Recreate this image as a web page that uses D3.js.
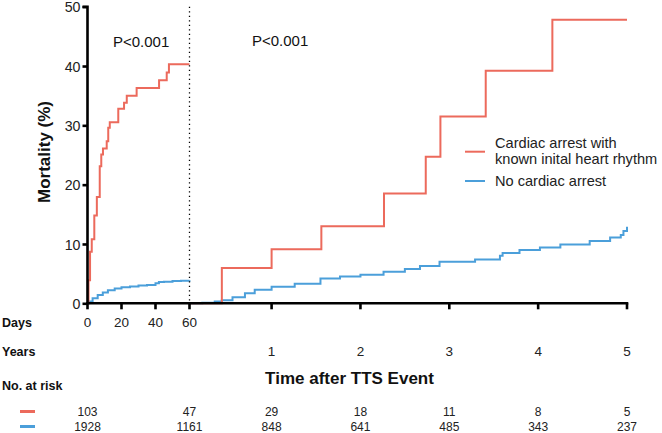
<!DOCTYPE html>
<html><head><meta charset="utf-8">
<script src="https://cdn.jsdelivr.net/npm/d3@7"></script>
<style>
html,body{margin:0;padding:0;background:#fff;}
svg{display:block;font-family:"Liberation Sans",Arial,sans-serif;}
</style></head>
<body><svg id="c" width="662" height="433"></svg>
<script>
// ---- data ----
const seriesNames = ["Cardiac arrest with\nknown inital heart rhythm", "No cardiac arrest"];
// early phase (days 0-60): [day, mortality %]
const arrestDays = [[0,0],[0.6,3.9],[1.5,8.7],[2.5,10.8],[4.0,14.8],[5.5,17.9],[7.2,23.1],[8.1,25.1],[9.1,26.1],[11.3,27.3],[12.2,29.6],[13.1,30.5],[18.1,32.8],[21.5,33.8],[23.1,35.0],[28.9,36.3],[42.1,37.6],[46.6,38.9],[47.9,40.3],[60,40.3]];
const noArrestDays = [[0,0],[1,0.3],[3,0.85],[6,1.4],[9,1.8],[12,2.2],[16,2.5],[20,2.7],[25,2.85],[30,3.0],[35,3.1],[40,3.4],[42,3.6],[45,3.65],[50,3.75],[55,3.8],[60,3.9]];
// late phase (years): [year, mortality %]
const arrestYears = [[0.076,0],[0.44,5.95],[1.0,9.1],[1.56,13.0],[2.265,18.5],[2.735,24.7],[2.90,31.5],[3.41,39.2],[4.16,47.8],[5.0,47.8]];
const noArrestYears = [[0.076,0],[0.22,0.1],[0.36,0.3],[0.44,0.5],[0.56,1.0],[0.70,1.7],[0.81,2.3],[1.0,2.8],[1.26,3.3],[1.55,4.2],[1.77,4.5],[2.0,4.8],[2.26,5.3],[2.5,5.8],[2.67,6.3],[2.89,7.0],[3.29,7.4],[3.57,8.0],[3.60,8.5],[3.79,9.0],[4.02,9.4],[4.25,9.9],[4.58,10.5],[4.81,11.1],[4.93,11.5],[4.96,12.2],[5.0,12.9]];
const yTicks = [0,10,20,30,40,50];
const dayTicks = [0,20,40,60];
const yearTicks = [1,2,3,4,5];
const riskArrest = [103,47,29,18,11,8,5];
const riskNoArrest = [1928,1161,848,641,485,343,237];
const pLabels = ["P<0.001","P<0.001"];

// ---- drawing ----
const RED = "#ec6a5c", BLUE = "#4b9fda";
const svg = d3.select("#c");
const y = d3.scaleLinear().domain([0,50]).range([303.3,6.7]);
const xd = d3.scaleLinear().domain([0,60]).range([87.5,189.5]);
const xy = d3.scaleLinear().domain([0.076,5]).range([189.5,627]);

// curves
const lineD = d3.line().x(d=>xd(d[0])).y(d=>y(d[1])).curve(d3.curveStepAfter);
const lineY = d3.line().x(d=>xy(d[0])).y(d=>y(d[1])).curve(d3.curveStepAfter);
const paths = [[noArrestDays,lineD,BLUE],[noArrestYears,lineY,BLUE],[arrestDays,lineD,RED],[arrestYears,lineY,RED]];
paths.forEach(([data,gen,col])=>{
  svg.append("path").attr("d",gen(data)).attr("fill","none").attr("stroke",col).attr("stroke-width",2);
});

// dotted divider
svg.append("line").attr("x1",xd(60)).attr("x2",xd(60)).attr("y1",y(50)).attr("y2",y(0))
  .attr("stroke","#000").attr("stroke-width",1.3).attr("stroke-dasharray","1.3,3.2");

// y axis
const gy = svg.append("g").attr("transform",`translate(${xd(0)},0)`)
  .call(d3.axisLeft(y).tickValues(yTicks).tickSize(5).tickPadding(2).tickFormat(d3.format("d")));
gy.select(".domain").attr("stroke-width",2.6).attr("d",`M-5,${y(50)}H0V${y(0)}`);
gy.selectAll(".tick line").attr("stroke-width",2.6);
gy.selectAll("text").attr("font-size",14.2).attr("dy","0.36em").attr("fill","#222").attr("font-family","Liberation Sans, Arial");

// x axis (days + years)
const gx = svg.append("g").attr("transform",`translate(0,${y(0)})`);
gx.append("line").attr("x1",xd(0)-1.3).attr("x2",xy(5)+1.3).attr("y1",0).attr("y2",0).attr("stroke","#000").attr("stroke-width",2.6);
const tickXs = dayTicks.map(d=>xd(d)).concat(yearTicks.map(d=>xy(d)));
gx.selectAll("line.t").data(tickXs).join("line").attr("class","t")
  .attr("x1",d=>d).attr("x2",d=>d).attr("y1",0).attr("y2",6).attr("stroke","#000").attr("stroke-width",2.6);

// Axis texts
const ff = "Liberation Sans, Arial, sans-serif";
function txt(x,yy,s,size,opts={}){
  return svg.append("text").attr("x",x).attr("y",yy).text(s).attr("font-size",size)
    .attr("font-family",ff).attr("fill",opts.fill||"#111")
    .attr("font-weight",opts.bold?"bold":"normal").attr("text-anchor",opts.anchor||"start");
}
svg.append("text").attr("transform","translate(50,152) rotate(-90)").attr("text-anchor","middle")
  .attr("font-size",17).attr("font-weight","bold").attr("font-family",ff).attr("fill","#111").text("Mortality (%)");

txt(113,46.5,pLabels[0],15);
txt(252,46,pLabels[1],15);

// legend
const names = seriesNames[0].split("\n");
svg.append("line").attr("x1",465).attr("x2",485).attr("y1",151.7).attr("y2",151.7).attr("stroke",RED).attr("stroke-width",2);
txt(495,148.3,names[0],14.6,{fill:"#222"});
txt(495,164,names[1],14.6,{fill:"#222"});
svg.append("line").attr("x1",465).attr("x2",485).attr("y1",181).attr("y2",181).attr("stroke",BLUE).attr("stroke-width",2);
txt(495,185.5,seriesNames[1],14.6,{fill:"#222"});

// Days / Years rows
txt(2,327,"Days",12.5,{bold:true});
dayTicks.forEach(d=>txt(xd(d),327,String(d),13.5,{anchor:"middle",fill:"#222"}));
txt(2,356,"Years",12.5,{bold:true});
yearTicks.forEach(d=>txt(xy(d),356,String(d),13.5,{anchor:"middle",fill:"#222"}));
txt(349.5,384,"Time after TTS Event",17,{bold:true,anchor:"middle"});
txt(2,390,"No. at risk",12.5,{bold:true});

// risk table
const riskXs = [xd(0),xd(60)].concat(yearTicks.map(d=>xy(d)));
svg.append("line").attr("x1",20).attr("x2",35).attr("y1",411.5).attr("y2",411.5).attr("stroke",RED).attr("stroke-width",3);
svg.append("line").attr("x1",20).attr("x2",35).attr("y1",426.5).attr("y2",426.5).attr("stroke",BLUE).attr("stroke-width",3);
riskArrest.forEach((v,i)=>txt(riskXs[i],415.5,String(v),12,{anchor:"middle",fill:"#222"}));
riskNoArrest.forEach((v,i)=>txt(riskXs[i],431,String(v),12,{anchor:"middle",fill:"#222"}));
</script>
</body></html>
